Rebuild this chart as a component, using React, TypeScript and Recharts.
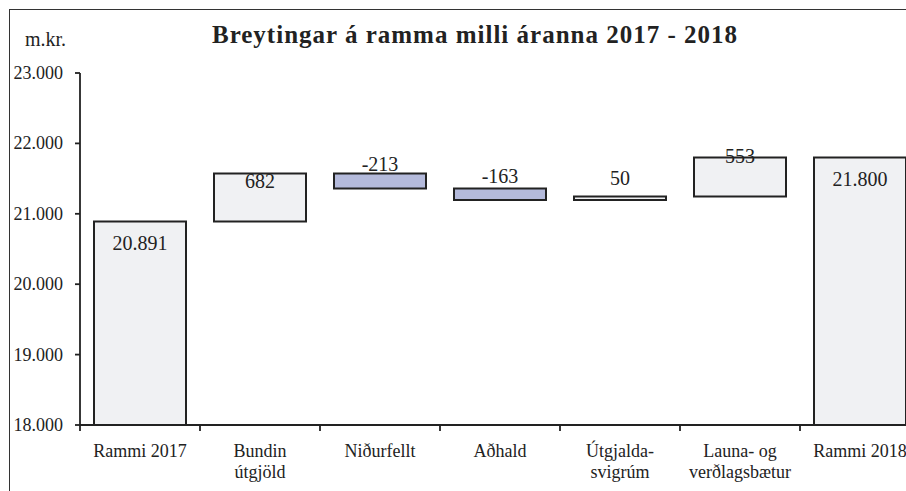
import React from 'react';
import { BarChart, Bar, Cell, XAxis, YAxis, LabelList } from 'recharts';

const categories = ['Rammi 2017', 'Bundin\nútgjöld', 'Niðurfellt', 'Aðhald', 'Útgjalda-\nsvigrúm', 'Launa- og\nverðlagsbætur', 'Rammi 2018'];
const changes = [20891, 682, -213, -163, 50, 553, 21800];
const isTotal = [true, false, false, false, false, false, true];
const yTicks = [18000, 19000, 20000, 21000, 22000, 23000];

const Y_MIN = 18000;
const Y_MAX = 23000;

// label baseline offset from bar top (px), mimics the original placement
const labelDy = [29, 15, -2, -5, -11, 6, 29];

const FONT = "'Liberation Serif', 'Times New Roman', serif";
const INK = '#222';
const CHART_W = 930;
const CHART_H = 491;
const LEFT = 80;
const RIGHT = 10;
const BAND = (CHART_W - LEFT - RIGHT) / categories.length;

const fmt = (v: number) => v.toLocaleString('de-DE');

// running totals -> floating bars
const data = (() => {
  let running = 0;
  return categories.map((name, i) => {
    let range: [number, number];
    if (isTotal[i]) {
      running = changes[i];
      range = [Y_MIN, changes[i]];
    } else {
      const start = running;
      running = running + changes[i];
      range = [Math.min(start, running), Math.max(start, running)];
    }
    return {
      name,
      range,
      label: isTotal[i] ? fmt(changes[i]) : String(changes[i]),
      neg: changes[i] < 0,
    };
  });
})();

const CategoryTick = (props: any) => {
  const { x, y, payload, index } = props;
  const lines = String(payload.value).split('\n');
  return (
    <g>
      <line x1={x + BAND / 2} x2={x + BAND / 2} y1={y} y2={y + 6} stroke={INK} strokeWidth={1.8} />
      {index === 0 && <line x1={x - BAND / 2} x2={x - BAND / 2} y1={y} y2={y + 6} stroke={INK} strokeWidth={1.8} />}
      <text x={x} y={y + 32} textAnchor="middle" style={{ fontFamily: FONT, fontSize: 18 }} fill={INK}>
        {lines.map((l, i) => (
          <tspan key={i} x={x} dy={i === 0 ? 0 : 21}>{l}</tspan>
        ))}
      </text>
    </g>
  );
};

const ValueTick = (props: any) => {
  const { x, y, payload } = props;
  return (
    <text x={x} y={y} dy={6} textAnchor="end" style={{ fontFamily: FONT, fontSize: 18 }} fill={INK}>
      {fmt(payload.value)}
    </text>
  );
};

const ValueLabel = (props: any) => {
  const { x, y, width, height, value, index } = props;
  const top = Math.min(y, y + height);
  return (
    <text x={x + width / 2} y={top + labelDy[index]} textAnchor="middle" style={{ fontFamily: FONT, fontSize: 20 }} fill={INK}>
      {value}
    </text>
  );
};

export default function App() {
  return (
    <div style={{ position: 'absolute', left: 0, top: 0, width: 906, height: 491, overflow: 'hidden', background: '#fff' }}>
      <div style={{ position: 'absolute', left: 8.5, top: 9, width: 1000, height: 1000, border: '1.5px solid #333' }} />
      <div style={{ position: 'absolute', left: 0, top: 22, width: 950, textAlign: 'center', fontFamily: FONT, fontWeight: 700, fontSize: 25, lineHeight: '25px', letterSpacing: 1, color: INK }}>
        Breytingar á ramma milli áranna 2017 - 2018
      </div>
      <div style={{ position: 'absolute', left: 25, top: 29, fontFamily: FONT, fontSize: 20, lineHeight: '20px', color: INK }}>
        m.kr.
      </div>
      <div style={{ position: 'absolute', left: 0, top: 0 }}>
        <BarChart width={CHART_W} height={CHART_H} data={data} margin={{ top: 73, right: RIGHT, left: 0, bottom: 0 }}>
          <XAxis
            dataKey="name"
            height={66}
            interval={0}
            tickLine={false}
            tickSize={0}
            tickMargin={0}
            axisLine={{ stroke: INK, strokeWidth: 1.8 }}
            tick={<CategoryTick />}
          />
          <YAxis
            width={LEFT}
            domain={[Y_MIN, Y_MAX]}
            ticks={yTicks}
            allowDataOverflow
            tickSize={5}
            tickMargin={12}
            axisLine={{ stroke: INK, strokeWidth: 1.8 }}
            tickLine={{ stroke: INK, strokeWidth: 1.8 }}
            tick={<ValueTick />}
          />
          <Bar dataKey="range" barSize={92} stroke={INK} strokeWidth={2} isAnimationActive={false}>
            {data.map((d, i) => (
              <Cell key={i} fill={d.neg ? '#B4BADB' : '#F0F1F3'} />
            ))}
            <LabelList dataKey="label" content={<ValueLabel />} />
          </Bar>
        </BarChart>
      </div>
    </div>
  );
}
